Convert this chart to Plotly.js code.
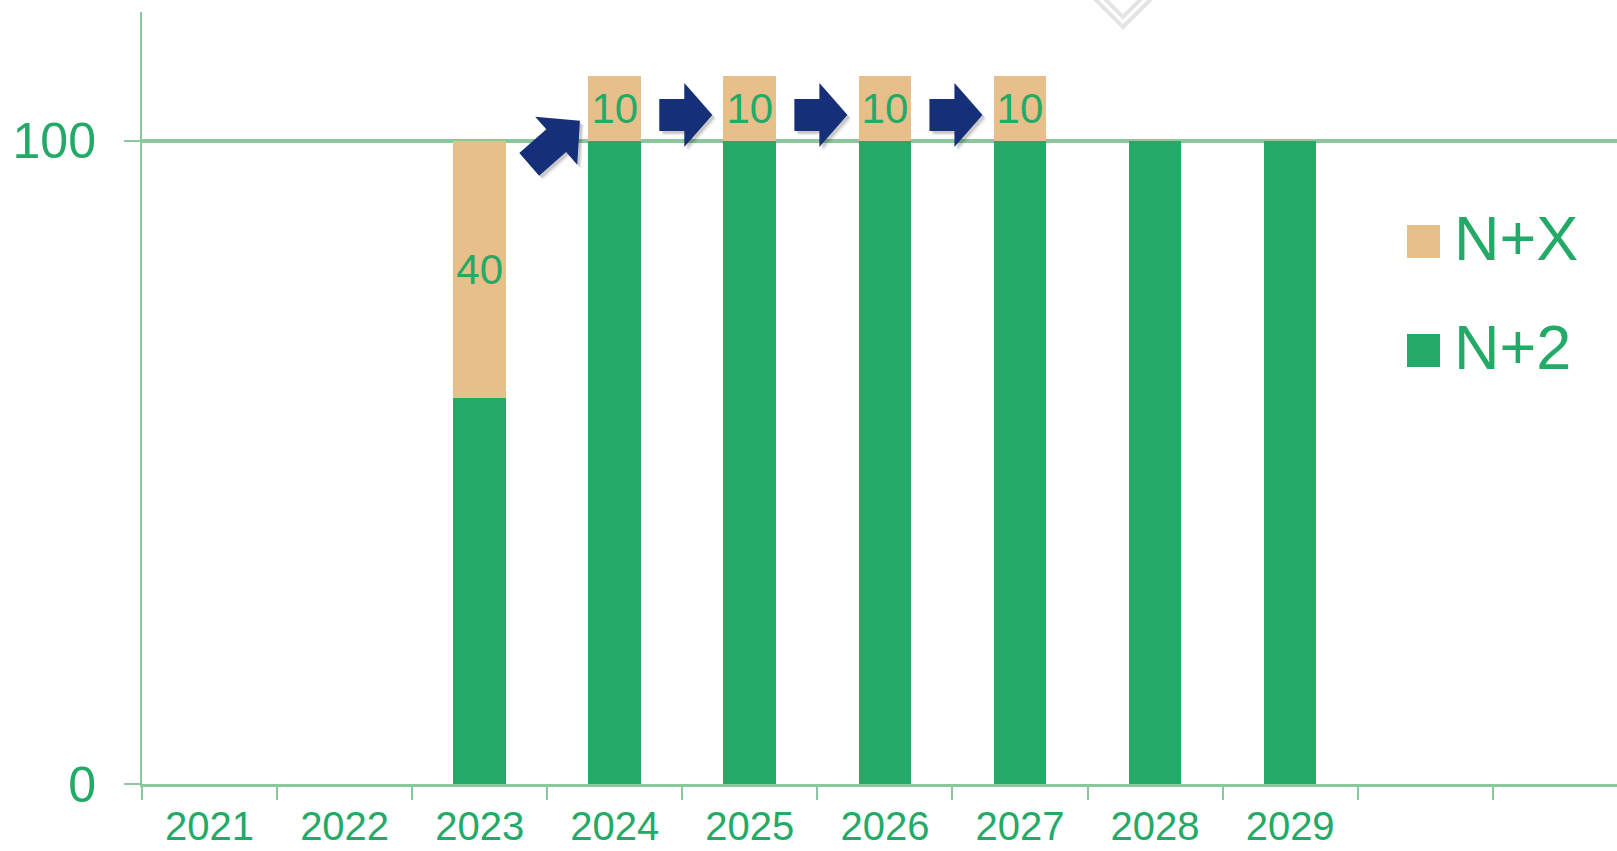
<!DOCTYPE html>
<html>
<head>
<meta charset="utf-8">
<script src="https://cdn.plot.ly/plotly-3.0.1.min.js"></script>
<style>
  html, body { margin: 0; padding: 0; background: #ffffff; }
  #chart { width: 1617px; height: 851px; }
</style>
</head>
<body>
<div id="chart"></div>
<script>
// ---- data ----
const years = ['2021', '2022', '2023', '2024', '2025', '2026', '2027', '2028', '2029'];
const n2Values = [null, null, 60, 100, 100, 100, 100, 100, 100];
const nxValues = [null, null, 40, 10, 10, 10, 10, null, null];
const seriesNames = ['N+X', 'N+2'];
const yTickValues = [0, 100];
const yTickLabels = ['0', '100'];

// ---- style ----
const GREEN = '#22AA66';
const TAN = '#E6BF8A';
const AXIS = '#8AC79D';
const NAVY = '#152F78';
const FONT = 'Liberation Sans, Arial, sans-serif';

const W = 1617, H = 851;
const M = { l: 142, r: 0, t: 12, b: 67 };
const plotW = W - M.l - M.r, plotH = H - M.t - M.b;
const xRange = [-0.5, 10.42];
const yRange = [0, 120];

const xIdx = years.map((_, i) => i);

const traces = [
  {
    type: 'bar', name: seriesNames[1], x: xIdx, y: n2Values,
    marker: { color: GREEN, line: { width: 0 } },
    showlegend: false, hoverinfo: 'skip'
  },
  {
    type: 'bar', name: seriesNames[0], x: xIdx, y: nxValues,
    marker: { color: TAN, line: { width: 0 } },
    text: nxValues.map(v => (v ? String(v) : '')),
    textposition: 'inside', insidetextanchor: 'middle', constraintext: 'none',
    textangle: 0,
    textfont: { family: FONT, size: 42, color: GREEN },
    showlegend: false, hoverinfo: 'skip'
  }
];

// ---- decorations: block arrows (pixel geometry relative to data anchors) ----
function pathFrom(pts, dx, dy) {
  return pts.map((p, k) => (k ? 'L ' : 'M ') + (p[0] + dx).toFixed(1) + ' ' + (p[1] + dy).toFixed(1)).join(' ') + ' Z';
}
const diagArrow = [[-27.9, -12.4], [-0.9, 11.3], [-12, 24], [32.7, 20], [30, -24], [18.9, -11.3], [-8.1, -35]];
const horizArrow = [[-23, 9.5], [2, 9.5], [2, 25.5], [30, -6.5], [2, -38.5], [2, -22.5], [-23, -22.5]];

const shapes = [];
function addArrow(pts, ax, ay) {
  const base = { type: 'path', xref: 'x', yref: 'y', xsizemode: 'pixel', ysizemode: 'pixel',
                 xanchor: ax, yanchor: ay, layer: 'above', line: { width: 0 } };
  shapes.push(Object.assign({}, base, { path: pathFrom(pts, 4, -4), fillcolor: 'rgba(0,0,0,0.08)' }));
  shapes.push(Object.assign({}, base, { path: pathFrom(pts, 2.5, -2.5), fillcolor: 'rgba(0,0,0,0.14)' }));
  shapes.push(Object.assign({}, base, { path: pathFrom(pts, 0, 0), fillcolor: NAVY }));
}
// arrows between consecutive years carrying the N+X share forward
for (let i = 0; i < years.length - 1; i++) {
  if (nxValues[i] && nxValues[i + 1]) {
    if (nxValues[i] !== nxValues[i + 1]) {
      addArrow(diagArrow, i + 0.5, n2Values[i] + nxValues[i]);
    } else {
      addArrow(horizArrow, i + 0.5, n2Values[i + 1] + nxValues[i + 1] / 2);
    }
  }
}

// faint chevron at top (slide artefact)
const pxX = px => (px - M.l) / plotW;
const pxY = py => (H - M.b - py) / plotH;
shapes.push({ type: 'path', xref: 'paper', yref: 'paper', xsizemode: 'pixel', ysizemode: 'pixel',
  xanchor: pxX(1123), yanchor: pxY(0), layer: 'above',
  path: 'M -28 1 L 0 -27 L 28 1', line: { color: '#E4E4E4', width: 4 } });
shapes.push({ type: 'path', xref: 'paper', yref: 'paper', xsizemode: 'pixel', ysizemode: 'pixel',
  xanchor: pxX(1123), yanchor: pxY(0), layer: 'above',
  path: 'M -20 3 L 0 -17 L 20 3', line: { color: '#E4E4E4', width: 4 } });

// ---- manual legend (large swatches) ----
const legendItems = [
  { name: seriesNames[0], color: TAN, top: 225 },
  { name: seriesNames[1], color: GREEN, top: 334 }
];
const annotations = [];
legendItems.forEach(it => {
  shapes.push({ type: 'rect', xref: 'paper', yref: 'paper',
    x0: pxX(1407), x1: pxX(1440), y0: pxY(it.top), y1: pxY(it.top + 33),
    fillcolor: it.color, line: { width: 0 }, layer: 'above' });
  annotations.push({ xref: 'paper', yref: 'paper', x: pxX(1452), y: pxY(it.top + 13),
    xanchor: 'left', yanchor: 'middle', text: it.name, showarrow: false,
    font: { family: FONT, size: 63, color: GREEN } });
});

const layout = {
  width: W, height: H,
  margin: M,
  paper_bgcolor: '#ffffff', plot_bgcolor: '#ffffff',
  barmode: 'stack', bargap: 0.61,
  showlegend: false,
  hovermode: false,
  font: { family: FONT, color: GREEN },
  xaxis: {
    range: xRange, fixedrange: true, automargin: false,
    tickmode: 'array', tickvals: xIdx, ticktext: years,
    ticks: '', showgrid: false, zeroline: false,
    showline: true, linecolor: AXIS, linewidth: 3,
    tickfont: { family: FONT, size: 40, color: GREEN },
    ticklabelstandoff: 5,
    minor: { tick0: 0.5, dtick: 1, ticks: 'outside', ticklen: 13, tickwidth: 2, tickcolor: AXIS, showgrid: false }
  },
  yaxis: {
    range: yRange, fixedrange: true, automargin: false,
    tickmode: 'array', tickvals: yTickValues, ticktext: yTickLabels,
    ticks: 'outside', ticklen: 16, tickwidth: 2, tickcolor: AXIS,
    showline: true, linecolor: AXIS, linewidth: 2,
    showgrid: true, gridcolor: AXIS, gridwidth: 4,
    zeroline: false,
    tickfont: { family: FONT, size: 50, color: GREEN },
    ticklabelstandoff: 18
  },
  shapes: shapes,
  annotations: annotations
};

Plotly.newPlot('chart', traces, layout, { displayModeBar: false, staticPlot: true });
</script>
</body>
</html>
